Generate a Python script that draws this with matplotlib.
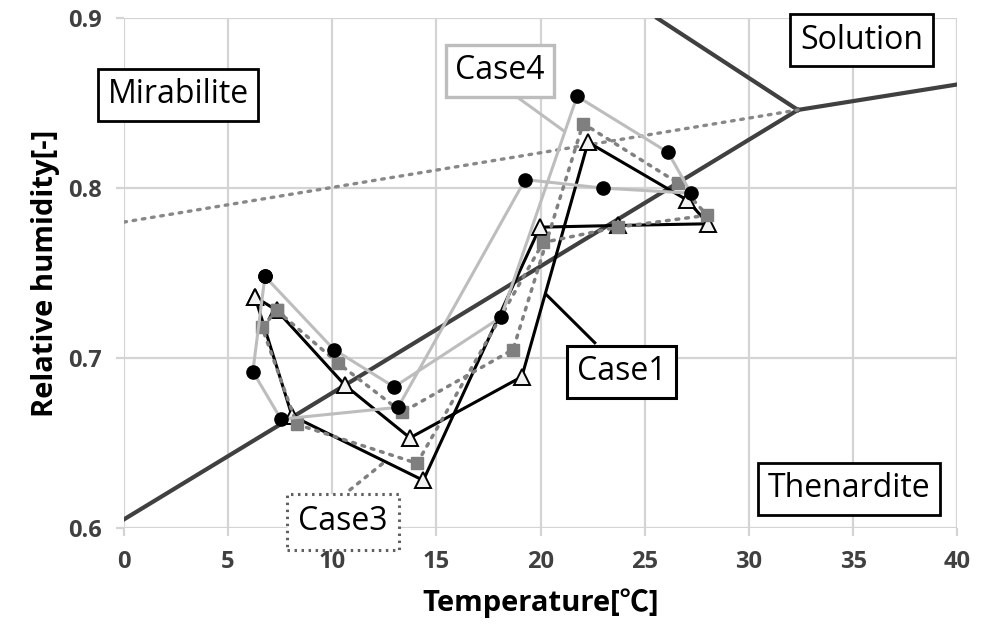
import numpy as np
import matplotlib
matplotlib.use('Agg')
import matplotlib.pyplot as plt

plt.rcParams['font.family'] = ['Open Sans', 'Noto Sans CJK JP', 'DejaVu Sans']

'''------PHASE BOUNDARIES------'''
mir_then_x, mir_then_y = [0, 32.35], [0.605, 0.846]
sol_x, sol_y = [32.35, 40], [0.846, 0.861]
upper_x, upper_y = [25.6, 32.35], [0.9, 0.846]
meta_x, meta_y = [0, 32.35], [0.78, 0.846]

'''------MEASURED DATA------'''
case1_t = [6.29, 7.34, 10.61, 13.73, 19.10, 22.28, 27.03, 28.04, 23.70, 19.97, 14.37, 8.07, 6.29]
case1_rh = [0.736, 0.728, 0.684, 0.653, 0.689, 0.827, 0.793, 0.779, 0.778, 0.777, 0.628, 0.666, 0.736]

case3_t = [7.34, 10.28, 13.35, 18.68, 22.04, 26.60, 27.99, 23.70, 20.12, 14.07, 8.30, 6.63, 7.34]
case3_rh = [0.728, 0.697, 0.668, 0.705, 0.838, 0.803, 0.784, 0.777, 0.768, 0.638, 0.661, 0.718, 0.728]

case4_t = [6.77, 10.08, 12.97, 18.10, 21.75, 26.12, 27.22, 23.00, 19.26, 13.16, 7.54, 6.19, 6.77]
case4_rh = [0.748, 0.705, 0.683, 0.724, 0.854, 0.821, 0.797, 0.800, 0.805, 0.671, 0.664, 0.692, 0.748]

xticks = [0, 5, 10, 15, 20, 25, 30, 35, 40]
yticks = [0.6, 0.7, 0.8, 0.9]

fig = plt.figure(figsize=(9.91, 6.27), dpi=100)
ax = fig.add_axes([0.125, 0.158, 0.841, 0.813])

dots = (0, (0.8, 2.0))

# boundaries
ax.plot(mir_then_x, mir_then_y, color='#404040', lw=3.0, zorder=3)
ax.plot(sol_x, sol_y, color='#404040', lw=3.0, zorder=3)
ax.plot(upper_x, upper_y, color='#404040', lw=3.0, zorder=3)
ax.plot(meta_x, meta_y, color='#888888', lw=2.4, linestyle=dots,
        dash_capstyle='round', zorder=3)

# series
ax.plot(case1_t, case1_rh, color='black', lw=2.2, marker='^', ms=11,
        mfc='#f2f2f2', mec='black', mew=1.4, zorder=4)
ax.plot(case3_t, case3_rh, color='#808080', lw=2.5, linestyle=dots,
        dash_capstyle='round', marker='s', ms=9, mfc='#7f7f7f', mec='#7f7f7f', zorder=5)
ax.plot(case4_t, case4_rh, color='#bdbdbd', lw=2.2, marker='o', ms=9.5,
        mfc='black', mec='black', zorder=6)

# leader lines
ax.plot([18.94, 21.08], [0.853, 0.834], color='#bdbdbd', lw=2.2, zorder=7)
ax.plot([22.6, 20.3], [0.709, 0.737], color='black', lw=2.2, zorder=7)
ax.plot([10.85, 12.53], [0.6224, 0.639], color='#808080', lw=2.5,
        linestyle=dots, dash_capstyle='round', zorder=7, clip_on=False)

# labels in boxes
box_kw = dict(fontsize=23, ha='center', va='center', zorder=8)
pad = 'square,pad=0.3'
ax.text(2.6, 0.855, 'Mirabilite',
        bbox=dict(boxstyle=pad, fc='white', ec='black', lw=2.0), **box_kw)
ax.text(35.4, 0.887, 'Solution', clip_on=False,
        bbox=dict(boxstyle=pad, fc='white', ec='black', lw=2.0), **box_kw)
ax.text(34.8, 0.623, 'Thenardite',
        bbox=dict(boxstyle=pad, fc='white', ec='black', lw=2.0), **box_kw)
ax.text(18.05, 0.869, 'Case4',
        bbox=dict(boxstyle=pad, fc='white', ec='#bdbdbd', lw=2.4), **box_kw)
ax.text(23.9, 0.692, 'Case1',
        bbox=dict(boxstyle=pad, fc='white', ec='black', lw=2.2), **box_kw)
ax.text(10.5, 0.6035, 'Case3', clip_on=False,
        bbox=dict(boxstyle='square,pad=0.35', fc='white', ec='#606060', lw=2.2,
                  linestyle=(0, (0.8, 1.5))), **box_kw)

ax.set_xlim(0, 40)
ax.set_ylim(0.6, 0.9)
ax.set_xticks(xticks)
ax.set_yticks(yticks)
ax.set_yticklabels(['%.1f' % v for v in yticks])
ax.grid(color='#d4d4d4', lw=1.6, zorder=0)
ax.set_axisbelow(True)
for s in ax.spines.values():
    s.set_visible(False)
ax.tick_params(axis='both', color='#d4d4d4', length=6, width=1.6,
               labelsize=17, labelcolor='#404040', pad=10)
for lab in ax.get_xticklabels() + ax.get_yticklabels():
    lab.set_fontweight('bold')

ax.set_xlabel('Temperature[℃]', fontsize=21, fontweight='bold', labelpad=10)
ax.set_ylabel('Relative humidity[-]', fontsize=21, fontweight='bold', labelpad=6)

plt.savefig('out.png', dpi=100)
